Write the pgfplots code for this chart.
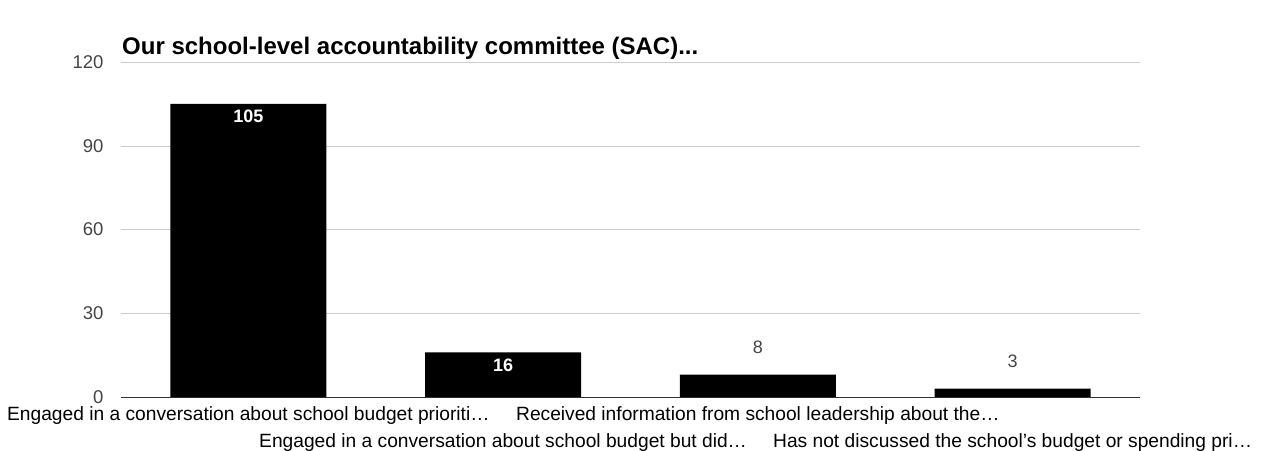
\documentclass[border=0pt]{standalone}
\usepackage{fontspec}
\setmainfont{Liberation Sans}
\usepackage{pgfplots}
\pgfplotsset{compat=1.18}
\definecolor{tickgray}{HTML}{444444}
\definecolor{gridgray}{HTML}{CCCCCC}
\definecolor{basegray}{HTML}{333333}
\begin{document}
\begin{tikzpicture}[x=1pt,y=1pt]
\useasboundingbox (0,0) rectangle (1264,450);
\node[anchor=base west,inner sep=0pt,font=\fontsize{24}{26}\selectfont\bfseries] at (122,395) {Our school-level accountability committee (SAC)...};
\begin{axis}[
  at={(121pt,53pt)}, anchor=south west,
  scale only axis, width=1019pt, height=335pt,
  xmin=-0.5, xmax=3.5, ymin=0, ymax=120,
  axis x line*=bottom, axis y line*=left,
  y axis line style={draw=none},
  x axis line style={draw=basegray,-},
  major tick length=0pt,
  ytick={0,30,60,90,120},
  ymajorgrids, grid style={gridgray},
  xtick={0,1,2,3},
  xticklabels={{Engaged in a conversation about school budget prioriti\ldots},{\strut\\Engaged in a conversation about school budget but did\ldots},{Received information from school leadership about the\ldots},{\strut\\Has not discussed the school's budget or spending pri\ldots}},
  xticklabel style={align=center,font=\fontsize{19.2}{24}\selectfont,text=black,yshift=-6pt},
  yticklabel style={font=\fontsize{18.5}{20}\selectfont,text=tickgray,xshift=-14pt},
  /pgf/number format/assume math mode=true,
  ybar, bar width=156pt, bar shift=0pt,
  clip=false,
]
\addplot[fill=black,draw=none,
  nodes near coords, nodes near coords align={below},
  every node near coord/.append style={font=\fontsize{18}{20}\selectfont\bfseries,text=white,anchor=north,yshift=-3pt}]
  coordinates {(0,105) (1,16)};
\addplot[fill=black,draw=none,
  nodes near coords,
  every node near coord/.append style={font=\fontsize{18}{20}\selectfont,text=tickgray,anchor=south,yshift=17pt}]
  coordinates {(2,8) (3,3)};
\end{axis}
\end{tikzpicture}
\end{document}
